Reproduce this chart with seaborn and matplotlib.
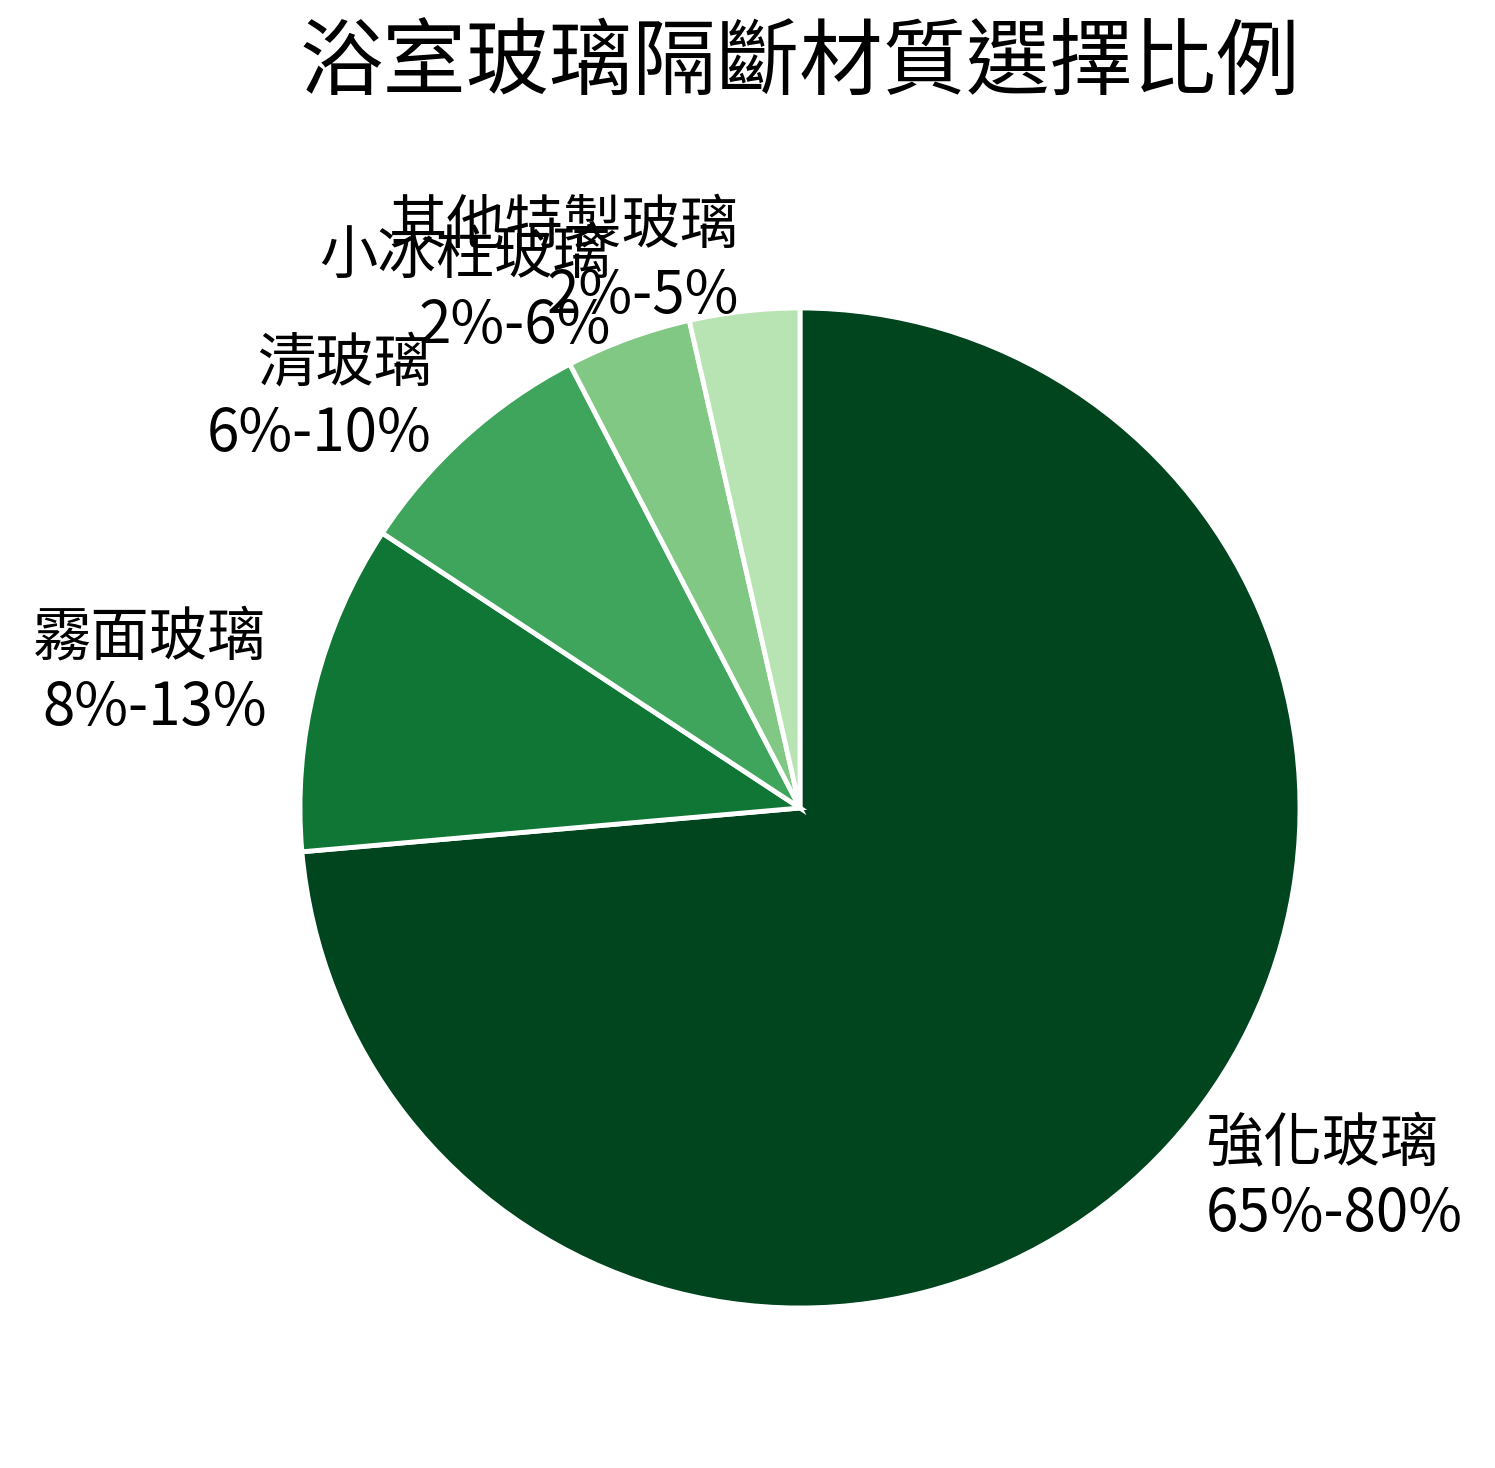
import matplotlib
matplotlib.use("Agg")
import matplotlib.pyplot as plt
import seaborn as sns

# Data
categories = ["強化玻璃", "霧面玻璃", "清玻璃", "小冰柱玻璃", "其他特製玻璃"]
ranges = ["65%-80%", "8%-13%", "6%-10%", "2%-6%", "2%-5%"]
shares = [72.5, 10.5, 8.0, 4.0, 3.5]
colors = ["#00451d", "#0f7635", "#3fa55c", "#80c883", "#b8e3b3"]

sns.set_theme(style="white")
plt.rcParams["font.family"] = ["Noto Sans CJK TC", "DejaVu Sans"]

fig = plt.figure(figsize=(14.95, 14.68), dpi=100)
ax = fig.add_axes([175 / 1495, 35 / 1468, 1250 / 1495, 1250 / 1468])

labels = [f"{c}\n{r}" for c, r in zip(categories, ranges)]
wedges, texts = ax.pie(
    shares,
    labels=labels,
    colors=colors,
    startangle=90,
    counterclock=False,
    labeldistance=1.1,
    wedgeprops=dict(edgecolor="white", linewidth=3.5),
    textprops=dict(fontsize=42, color="black", linespacing=1.2),
)
for t in texts:
    t.set_multialignment(t.get_horizontalalignment())
ax.set_aspect("equal")

fig.text(800 / 1495, 1 - 65 / 1468, "浴室玻璃隔斷材質選擇比例",
         ha="center", va="center", fontsize=60, color="black")

fig.savefig("out.png", dpi=100, facecolor="white")
